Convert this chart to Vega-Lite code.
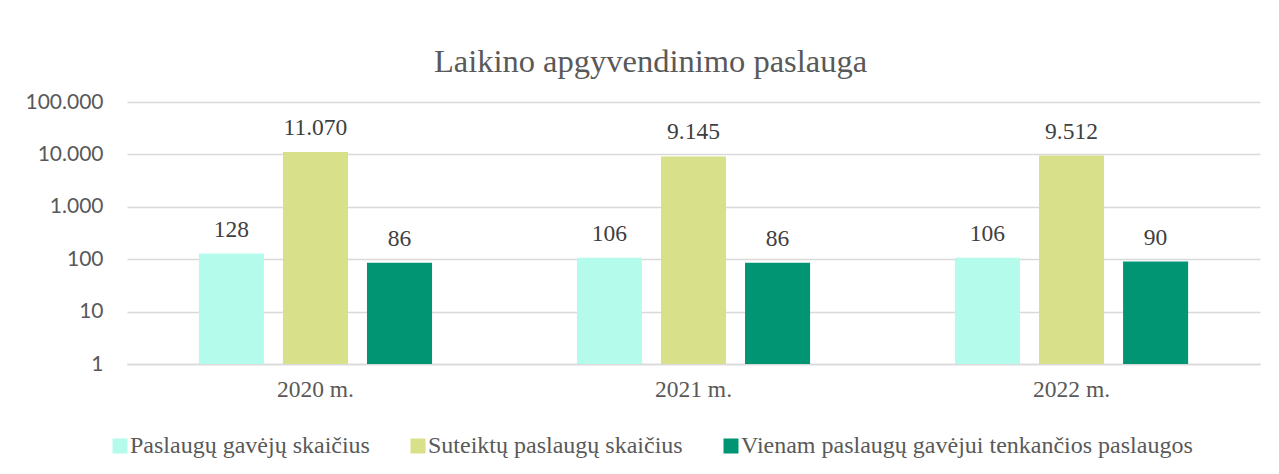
{
  "$schema": "https://vega.github.io/schema/vega-lite/v6.json",
  "width": 1133,
  "height": 262,
  "autosize": {"type": "none"},
  "padding": {"left": 127, "top": 102, "right": 19, "bottom": 110},
  "background": "#ffffff",
  "title": {
    "text": "Laikino apgyvendinimo paslauga",
    "frame": "group",
    "anchor": "middle",
    "dx": -43,
    "baseline": "alphabetic",
    "offset": -13,
    "font": "Liberation Serif",
    "fontSize": 32.5,
    "fontWeight": "normal",
    "color": "#595959"
  },
  "config": {
    "locale": {"number": {"decimal": ",", "thousands": ".", "grouping": [3], "currency": ["", " €"]}},
    "view": {"stroke": null},
    "axis": {"labelColor": "#595959", "titleColor": "#595959"}
  },
  "data": {
    "values": [
      {"year": "2020 m.", "series": "Paslaugų gavėjų skaičius", "value": 128},
      {"year": "2020 m.", "series": "Suteiktų paslaugų skaičius", "value": 11070},
      {"year": "2020 m.", "series": "Vienam paslaugų gavėjui tenkančios paslaugos", "value": 86},
      {"year": "2021 m.", "series": "Paslaugų gavėjų skaičius", "value": 106},
      {"year": "2021 m.", "series": "Suteiktų paslaugų skaičius", "value": 9145},
      {"year": "2021 m.", "series": "Vienam paslaugų gavėjui tenkančios paslaugos", "value": 86},
      {"year": "2022 m.", "series": "Paslaugų gavėjų skaičius", "value": 106},
      {"year": "2022 m.", "series": "Suteiktų paslaugų skaičius", "value": 9512},
      {"year": "2022 m.", "series": "Vienam paslaugų gavėjui tenkančios paslaugos", "value": 90}
    ]
  },
  "encoding": {
    "x": {
      "field": "year",
      "type": "nominal",
      "scale": {"paddingInner": 0.333, "paddingOuter": 0.165},
      "axis": {
        "title": null,
        "labelAngle": 0,
        "labelFont": "Liberation Serif",
        "labelFontSize": 23.5,
        "labelPadding": 13,
        "ticks": false,
        "domainColor": "#D9D9D9",
        "domainWidth": 1.3
      }
    },
    "xOffset": {
      "field": "series",
      "type": "nominal",
      "scale": {"paddingInner": 0.226, "paddingOuter": 0.113}
    },
    "y": {
      "field": "value",
      "type": "quantitative",
      "scale": {"type": "log", "domain": [1, 100000], "nice": false},
      "axis": {
        "title": null,
        "values": [1, 10, 100, 1000, 10000, 100000],
        "format": ",d",
        "labelFont": "Lato",
        "labelFontSize": 21,
        "labelPadding": 24,
        "ticks": false,
        "domain": false,
        "gridColor": "#D9D9D9",
        "gridWidth": 1.3
      }
    }
  },
  "layer": [
    {
      "mark": {"type": "bar"},
      "encoding": {
        "y2": {"datum": 1},
        "color": {
          "field": "series",
          "type": "nominal",
          "scale": {
            "domain": ["Paslaugų gavėjų skaičius", "Suteiktų paslaugų skaičius", "Vienam paslaugų gavėjui tenkančios paslaugos"],
            "range": ["#B5FBEC", "#D8E08A", "#029574"]
          },
          "legend": {
            "title": null,
            "orient": "none",
            "direction": "horizontal",
            "legendX": -19,
            "legendY": 332,
            "symbolType": "square",
            "symbolSize": 225,
            "symbolStrokeWidth": 0,
            "symbolOpacity": 1,
            "labelFont": "Liberation Serif",
            "labelFontSize": 24,
            "labelColor": "#595959",
            "labelOffset": -2,
            "labelLimit": 0,
            "columnPadding": 36
          }
        }
      }
    },
    {
      "mark": {
        "type": "text",
        "baseline": "alphabetic",
        "dy": -17,
        "font": "Liberation Serif",
        "fontSize": 23.5,
        "color": "#404040"
      },
      "encoding": {
        "text": {"field": "value", "type": "quantitative", "format": ",d"}
      }
    }
  ]
}
